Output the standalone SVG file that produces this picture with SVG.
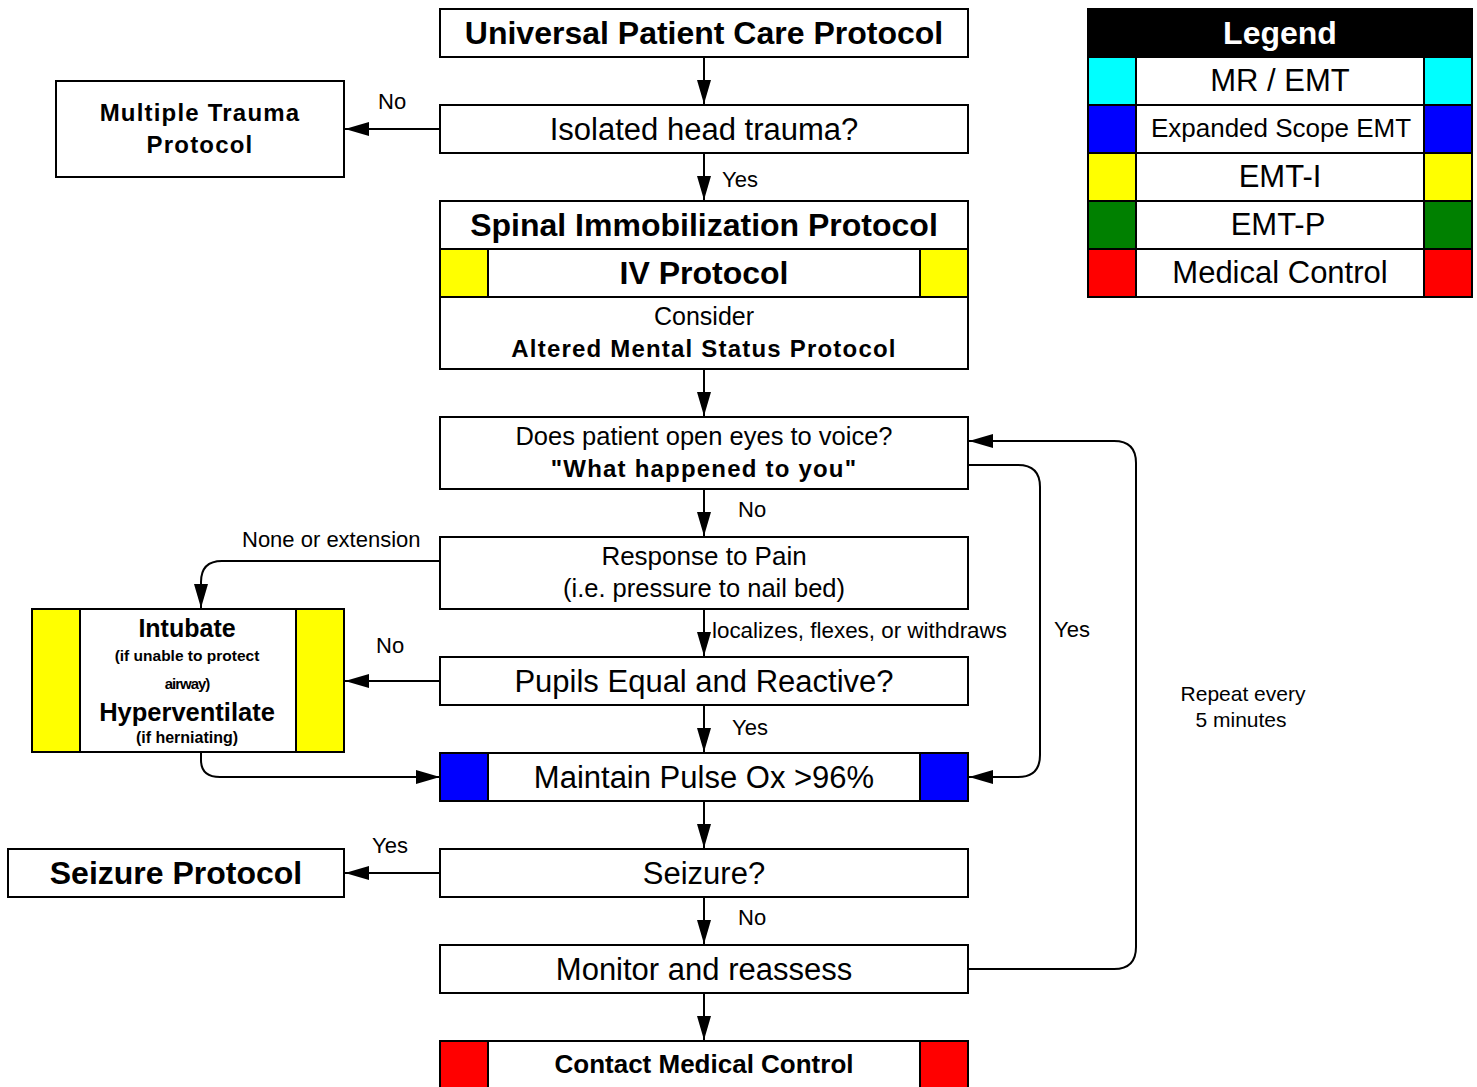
<svg xmlns="http://www.w3.org/2000/svg" width="1477" height="1087" viewBox="0 0 1477 1087">
<style>
text{font-family:"Liberation Sans",Arial,sans-serif;fill:#000;text-anchor:middle}
.b{font-weight:bold}
.box{fill:#fff;stroke:#000;stroke-width:2}
.cell{stroke:#000;stroke-width:2}
.c{fill:none;stroke:#000;stroke-width:2}
.lbl{font-size:22px;text-anchor:start}
.ls{letter-spacing:1.2px}
</style>
<defs>
<marker id="ah" markerUnits="userSpaceOnUse" markerWidth="24" markerHeight="14" refX="24" refY="7" orient="auto">
<path d="M0,0 L24,7 L0,14 z" fill="#000"/>
</marker>
</defs>
<rect width="1477" height="1087" fill="#fff"/>

<g id="connectors">
<path class="c" d="M704,57 V104" marker-end="url(#ah)"/>
<path class="c" d="M440,129 H345" marker-end="url(#ah)"/>
<path class="c" d="M704,153 V200" marker-end="url(#ah)"/>
<path class="c" d="M704,369 V416" marker-end="url(#ah)"/>
<path class="c" d="M704,489 V536" marker-end="url(#ah)"/>
<path class="c" d="M440,561 H222 Q201,561 201,582 V608" marker-end="url(#ah)"/>
<path class="c" d="M704,609 V656" marker-end="url(#ah)"/>
<path class="c" d="M440,681 H345" marker-end="url(#ah)"/>
<path class="c" d="M704,705 V752" marker-end="url(#ah)"/>
<path class="c" d="M201,752 V760 Q201,777 220,777 H440" marker-end="url(#ah)"/>
<path class="c" d="M968,465 H1018 Q1040,465 1040,487 V755 Q1040,777 1018,777 H969" marker-end="url(#ah)"/>
<path class="c" d="M704,801 V848" marker-end="url(#ah)"/>
<path class="c" d="M440,873 H345" marker-end="url(#ah)"/>
<path class="c" d="M704,897 V944" marker-end="url(#ah)"/>
<path class="c" d="M968,969 H1114 Q1136,969 1136,947 V463 Q1136,441 1114,441 H969" marker-end="url(#ah)"/>
<path class="c" d="M704,993 V1040" marker-end="url(#ah)"/>
<text class="lbl" x="378" y="109">No</text>
<text class="lbl" x="722" y="187">Yes</text>
<text class="lbl" x="738" y="517">No</text>
<text class="lbl" x="242" y="547">None or extension</text>
<text class="lbl" x="712" y="638" style="font-size:22.4px">localizes, flexes, or withdraws</text>
<text class="lbl" x="376" y="653">No</text>
<text class="lbl" x="732" y="735">Yes</text>
<text class="lbl" x="1054" y="637">Yes</text>
<text class="lbl" x="372" y="853">Yes</text>
<text class="lbl" x="738" y="925">No</text>
<text x="1243" y="701" style="font-size:21px">Repeat every</text>
<text x="1241" y="727" style="font-size:21px">5 minutes</text>
</g>

<g id="universal">
<rect class="box" x="440" y="9" width="528" height="48"/>
<text class="b" x="704" y="44" style="font-size:32px">Universal Patient Care Protocol</text>
</g>

<g id="isolated">
<rect class="box" x="440" y="105" width="528" height="48"/>
<text x="704" y="140" style="font-size:31px">Isolated head trauma?</text>
</g>

<g id="multiple-trauma">
<rect class="box" x="56" y="81" width="288" height="96"/>
<text class="b ls" x="200" y="121" style="font-size:24px">Multiple Trauma</text>
<text class="b ls" x="200" y="153" style="font-size:24px">Protocol</text>
</g>

<g id="spinal-block">
<rect class="box" x="440" y="201" width="528" height="168"/>
<line class="c" x1="440" y1="249" x2="968" y2="249"/>
<line class="c" x1="440" y1="297" x2="968" y2="297"/>
<rect class="cell" x="440" y="249" width="48" height="48" fill="#ffff00"/>
<rect class="cell" x="920" y="249" width="48" height="48" fill="#ffff00"/>
<text class="b" x="704" y="236" style="font-size:32px">Spinal Immobilization Protocol</text>
<text class="b" x="704" y="284" style="font-size:32px">IV Protocol</text>
<text x="704" y="325" style="font-size:25px">Consider</text>
<text class="b ls" x="704" y="357" style="font-size:24px">Altered Mental Status Protocol</text>
</g>

<g id="eyes">
<rect class="box" x="440" y="417" width="528" height="72"/>
<text x="704" y="445" style="font-size:25.5px">Does patient open eyes to voice?</text>
<text class="b ls" x="704" y="477" style="font-size:24px">"What happened to you"</text>
</g>

<g id="pain">
<rect class="box" x="440" y="537" width="528" height="72"/>
<text x="704" y="565" style="font-size:26px">Response to Pain</text>
<text x="704" y="597" style="font-size:25.5px">(i.e. pressure to nail bed)</text>
</g>

<g id="intubate">
<rect class="box" x="32" y="609" width="312" height="143"/>
<rect class="cell" x="32" y="609" width="48" height="143" fill="#ffff00"/>
<rect class="cell" x="296" y="609" width="48" height="143" fill="#ffff00"/>
<text class="b" x="187" y="637" style="font-size:25px">Intubate</text>
<text class="b" x="187" y="661" style="font-size:15.5px">(if unable to protect</text>
<text class="b" x="187" y="689" style="font-size:15px;letter-spacing:-1px">airway)</text>
<text class="b" x="187" y="721" style="font-size:25.5px">Hyperventilate</text>
<text class="b" x="187" y="743" style="font-size:16px">(if herniating)</text>
</g>

<g id="pupils">
<rect class="box" x="440" y="657" width="528" height="48"/>
<text x="704" y="692" style="font-size:31px">Pupils Equal and Reactive?</text>
</g>

<g id="pulse-ox">
<rect class="box" x="440" y="753" width="528" height="48"/>
<rect class="cell" x="440" y="753" width="48" height="48" fill="#0000ff"/>
<rect class="cell" x="920" y="753" width="48" height="48" fill="#0000ff"/>
<text x="704" y="788" style="font-size:31px">Maintain Pulse Ox &gt;96%</text>
</g>

<g id="seizure">
<rect class="box" x="440" y="849" width="528" height="48"/>
<text x="704" y="884" style="font-size:31px">Seizure?</text>
</g>

<g id="seizure-protocol">
<rect class="box" x="8" y="849" width="336" height="48"/>
<text class="b" x="176" y="884" style="font-size:32px">Seizure Protocol</text>
</g>

<g id="monitor">
<rect class="box" x="440" y="945" width="528" height="48"/>
<text x="704" y="980" style="font-size:31px">Monitor and reassess</text>
</g>

<g id="contact">
<rect class="box" x="440" y="1041" width="528" height="50"/>
<rect class="cell" x="440" y="1041" width="48" height="50" fill="#ff0000"/>
<rect class="cell" x="920" y="1041" width="48" height="50" fill="#ff0000"/>
<text class="b" x="704" y="1073" style="font-size:26px">Contact Medical Control</text>
</g>

<g id="legend">
<rect x="1088" y="9" width="384" height="48" fill="#000" stroke="#000" stroke-width="2"/>
<text class="b" x="1280" y="44" style="font-size:32px;fill:#fff">Legend</text>
<rect class="box" x="1088" y="57" width="384" height="240"/>
<rect class="cell" x="1088" y="57" width="48" height="48" fill="#00ffff"/>
<rect class="cell" x="1424" y="57" width="48" height="48" fill="#00ffff"/>
<rect class="cell" x="1088" y="105" width="48" height="48" fill="#0000ff"/>
<rect class="cell" x="1424" y="105" width="48" height="48" fill="#0000ff"/>
<rect class="cell" x="1088" y="153" width="48" height="48" fill="#ffff00"/>
<rect class="cell" x="1424" y="153" width="48" height="48" fill="#ffff00"/>
<rect class="cell" x="1088" y="201" width="48" height="48" fill="#008000"/>
<rect class="cell" x="1424" y="201" width="48" height="48" fill="#008000"/>
<rect class="cell" x="1088" y="249" width="48" height="48" fill="#ff0000"/>
<rect class="cell" x="1424" y="249" width="48" height="48" fill="#ff0000"/>
<line class="c" x1="1088" y1="105" x2="1472" y2="105"/>
<line class="c" x1="1088" y1="153" x2="1472" y2="153"/>
<line class="c" x1="1088" y1="201" x2="1472" y2="201"/>
<line class="c" x1="1088" y1="249" x2="1472" y2="249"/>
<text x="1280" y="91" style="font-size:31px">MR / EMT</text>
<text x="1281" y="137" style="font-size:26px">Expanded Scope EMT</text>
<text x="1280" y="187" style="font-size:31px">EMT-I</text>
<text x="1278" y="235" style="font-size:31px">EMT-P</text>
<text x="1280" y="283" style="font-size:31px">Medical Control</text>
</g>
</svg>
